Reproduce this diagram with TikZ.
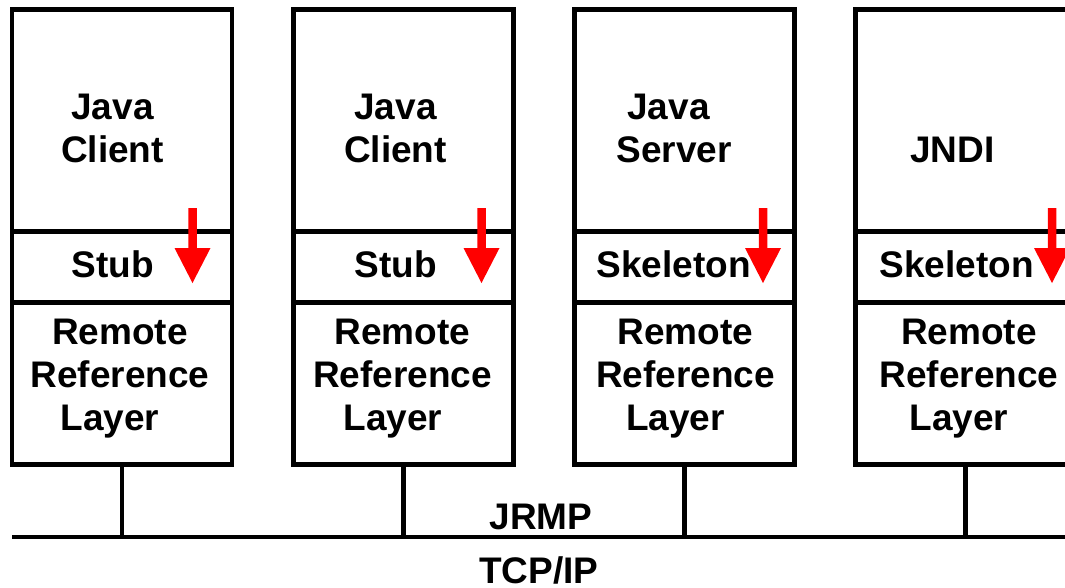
\documentclass[tikz,border=0pt]{standalone}
\usepackage{fontspec}
\setmainfont{Liberation Sans}
\begin{document}
\begin{tikzpicture}[x=1pt,y=-1pt,
  layer/.style={draw, line width=4.5pt, minimum width=220pt, inner sep=0pt, outer sep=0pt, anchor=north west},
  lbl/.style={font=\fontsize{37}{43}\selectfont\bfseries, align=center, inner sep=0pt, anchor=base},
  wire/.style={line width=4.5pt},
  callarrow/.pic={\fill[red] (-4.25,0) -- (4.25,0) -- (4.25,40) -- (18,40) -- (0,75) -- (-18,40) -- (-4.25,40) -- cycle;}
]
\useasboundingbox (0,0) rectangle (1065,587);

% the four stacks: application / stub-skeleton / remote reference layer
\foreach \i/\xl in {1/12, 2/293.5, 3/574.5, 4/855.5} {
  \node[layer, minimum height=222pt] (app\i) at (\xl,9.5) {};
  \node[layer, minimum height=71pt]  (proxy\i) at (\xl,231.5) {};
  \node[layer, minimum height=162pt] (rrl\i) at (\xl,302.5) {};
}

% labels (base anchor sits on the last line)
\node[lbl] (t1) at (112.5,162) {Java\\Client};
\node[lbl] (t2) at (395.5,162) {Java\\Client};
\node[lbl] (t3) at (674,162) {Java\hspace*{11pt}\\Server};
\node[lbl] (t4) at (952.5,162) {JNDI};

\node[lbl] (p1) at (112.5,277) {Stub};
\node[lbl] (p2) at (395.5,277) {Stub};
\node[lbl] (p3) at (673.5,277) {Skeleton};
\node[lbl] (p4) at (956.5,277) {Skeleton};

\node[lbl] (r1) at (120,430) {Remote\\Reference\\Layer\hspace*{20pt}};
\node[lbl] (r2) at (402.5,430) {Remote\\Reference\\Layer\hspace*{19pt}};
\node[lbl] (r3) at (685.5,430) {Remote\\Reference\\Layer\hspace*{20pt}};
\node[lbl] (r4) at (969,430) {Remote\\Reference\\Layer\hspace*{20pt}};

% call direction arrows
\pic at (192.5,208) {callarrow};
\pic at (481.5,208) {callarrow};
\pic at (763,208) {callarrow};
\pic at (1052,208) {callarrow};

% network bus
\coordinate (busL) at (12,537);
\coordinate (busR) at (1075,537);
\draw[wire] (busL) -- (busR);
\foreach \i in {1,...,4} {
  \draw[wire] (rrl\i.south) -- (rrl\i.south |- busL);
}

\node[lbl] (jrmp) at (541,529) {JRMP};
\node[lbl] (tcpip) at (539,583.5) {TCP/IP};
\end{tikzpicture}
\end{document}
